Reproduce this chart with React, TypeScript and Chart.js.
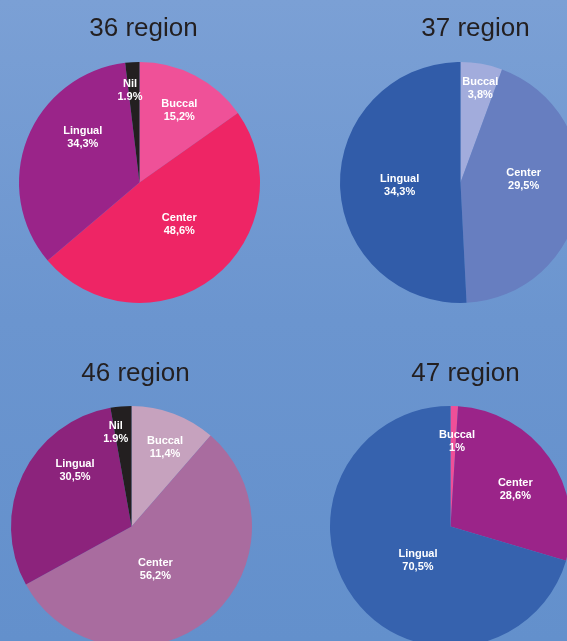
import React, { useEffect, useRef } from 'react';
import { Chart, registerables } from 'chart.js';

Chart.register(...registerables);

// ---- data ----
const categories36 = ['Buccal', 'Center', 'Lingual', 'Nil'];
const values36 = [15.2, 48.6, 34.3, 1.9];
const pctText36 = ['15,2%', '48,6%', '34,3%', '1.9%'];

const categories37 = ['Buccal', 'Center', 'Lingual'];
const values37 = [5.6, 43.6, 50.8];
const pctText37 = ['3,8%', '29,5%', '34,3%'];

const categories46 = ['Buccal', 'Center', 'Lingual', 'Nil'];
const values46 = [11.4, 55.6, 30.2, 2.8];
const pctText46 = ['11,4%', '56,2%', '30,5%', '1.9%'];

const categories47 = ['Buccal', 'Center', 'Lingual'];
const values47 = [1, 28.6, 70.5];
const pctText47 = ['1%', '28,6%', '70,5%'];

// ---- styles ----
const colors36 = ['#ef5198', '#ee2565', '#9a2489', '#231f20'];
const colors37 = ['#a2acdc', '#677ec0', '#315ca9'];
const colors46 = ['#c6a2be', '#a96c9f', '#8c237c', '#231f20'];
const colors47 = ['#ef4f98', '#9b2489', '#3662ae'];

const overlayPlugin = {
  id: 'overlay',
  afterDatasetsDraw(chart: any, _args: any, opts: any) {
    const meta = chart.getDatasetMeta(0);
    const arc = meta.data[0];
    if (!arc) return;
    const { x, y, outerRadius: r } = arc.getProps(['x', 'y', 'outerRadius'], true);
    const ctx = chart.ctx;
    ctx.save();
    ctx.fillStyle = '#231f20';
    ctx.font = '26px "Liberation Sans", Arial, sans-serif';
    ctx.textAlign = 'center';
    ctx.textBaseline = 'alphabetic';
    ctx.fillText(opts.title, x + opts.titleDx, y - r - opts.titleGap);
    ctx.font = 'bold 11px "Liberation Sans", Arial, sans-serif';
    ctx.fillStyle = '#ffffff';
    ctx.textBaseline = 'middle';
    (chart.data.labels as string[]).forEach((lab, i) => {
      const [ox, oy] = opts.labelPos[i];
      const lx = x + ox * r;
      const ly = y + oy * r;
      ctx.fillText(lab, lx, ly - 6.5);
      ctx.fillText(opts.pct[i], lx, ly + 6.5);
    });
    ctx.restore();
  },
};

type CardProps = {
  left: number;
  top: number;
  title: string;
  titleDx: number;
  titleGap: number;
  categories: string[];
  values: number[];
  colors: string[];
  pct: string[];
  labelPos: number[][];
};

function PieCard(p: CardProps) {
  const ref = useRef<HTMLCanvasElement>(null);
  useEffect(() => {
    if (!ref.current) return;
    const chart = new Chart(ref.current, {
      type: 'pie',
      data: {
        labels: p.categories,
        datasets: [
          {
            data: p.values,
            backgroundColor: p.colors,
            borderWidth: 0,
            hoverOffset: 0,
          },
        ],
      },
      options: {
        responsive: false,
        animation: false,
        events: [],
        layout: { padding: { left: 20, top: 60, right: 29, bottom: 9 } },
        plugins: {
          legend: { display: false },
          tooltip: { enabled: false },
          title: { display: false },
          overlay: {
            title: p.title,
            titleDx: p.titleDx,
            titleGap: p.titleGap,
            pct: p.pct,
            labelPos: p.labelPos,
          },
        } as any,
      },
      plugins: [overlayPlugin],
    });
    return () => chart.destroy();
  }, []);
  return (
    <canvas
      ref={ref}
      width={290}
      height={310}
      style={{ position: 'absolute', left: p.left, top: p.top, display: 'block' }}
    />
  );
}

export default function App() {
  return (
    <div
      style={{
        position: 'fixed',
        left: 0,
        top: 0,
        width: 567,
        height: 641,
        overflow: 'hidden',
        background: 'linear-gradient(to bottom, #7ba0d5 0%, #6b95cf 50%, #6390cc 100%)',
      }}
    >
      <PieCard
        left={-1}
        top={2}
        title="36 region"
        titleDx={4}
        titleGap={26}
        categories={categories36}
        values={values36}
        colors={colors36}
        pct={pctText36}
        labelPos={[[0.33, -0.596], [0.33, 0.35], [-0.471, -0.373], [-0.079, -0.765]]}
      />
      <PieCard
        left={320}
        top={2}
        title="37 region"
        titleDx={15}
        titleGap={26}
        categories={categories37}
        values={values37}
        colors={colors37}
        pct={pctText37}
        labelPos={[[0.164, -0.782], [0.524, -0.025], [-0.505, 0.021]]}
      />
      <PieCard
        left={-9}
        top={346}
        title="46 region"
        titleDx={4}
        titleGap={25}
        categories={categories46}
        values={values46}
        colors={colors46}
        pct={pctText46}
        labelPos={[[0.278, -0.654], [0.198, 0.355], [-0.469, -0.465], [-0.131, -0.778]]}
      />
      <PieCard
        left={310}
        top={346}
        title="47 region"
        titleDx={15}
        titleGap={25}
        categories={categories47}
        values={values47}
        colors={colors47}
        pct={pctText47}
        labelPos={[[0.054, -0.704], [0.538, -0.305], [-0.27, 0.285]]}
      />
    </div>
  );
}
